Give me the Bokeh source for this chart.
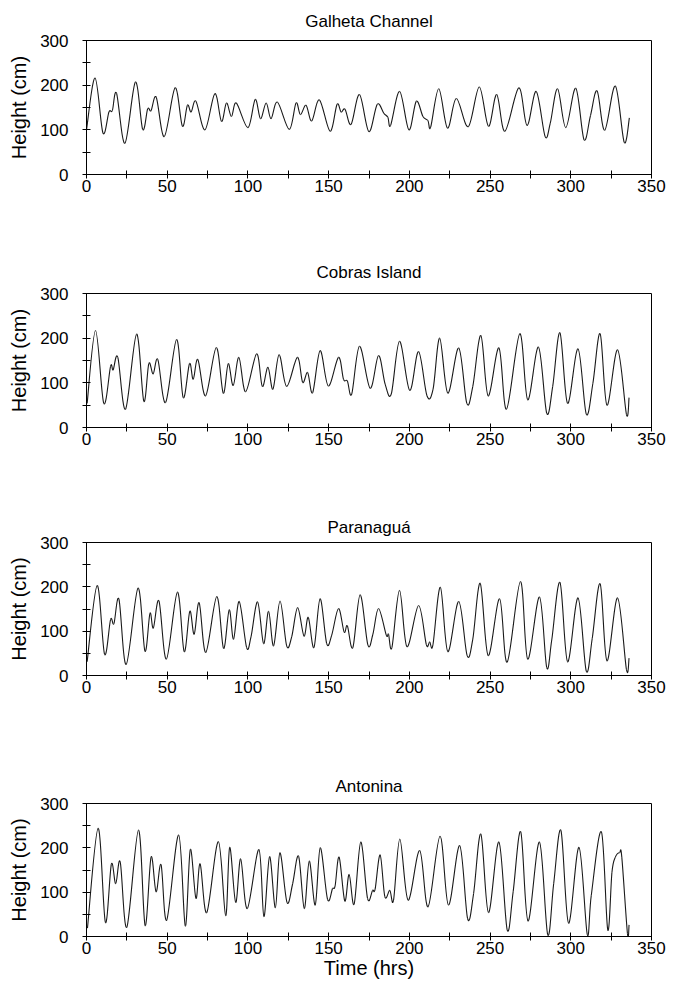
from bokeh.plotting import figure
from bokeh.layouts import column
from bokeh.models import FixedTicker, Range1d
from bokeh.embed import file_html
from bokeh.resources import INLINE

# ---- data (hours, height in cm) ----
galheta_t = [0, 5.3, 10.2, 13.9, 16, 18.6, 23.8, 30.3, 34.8, 37.9, 40, 43.2, 48.2, 54.9, 59.4, 62.5, 64.8, 67.8,
             73.4, 79.5, 83.6, 86.7, 89.8, 92.8, 100, 104.5, 107.8, 111.3, 114.3, 118.3, 125.6, 129.8, 132.5, 136,
             139.5, 144.3, 150.9, 155.2, 157.7, 160.2, 163.9, 169.1, 174.9, 180.1, 184.2, 186.7, 188.4, 194, 199.7,
             204.3, 208.4, 211.5, 213.2, 218.2, 223.6, 229.1, 236.5, 243.3, 249, 254.1, 259.2, 267.8, 272.9, 278.6,
             284.1, 287.3, 291.8, 296.9, 303.1, 308.2, 312.2, 316.3, 321, 327.6, 333.1, 336.3]
galheta_h = [100, 216, 93, 140, 143, 182, 70, 207, 101, 147, 143, 173, 85, 194, 108, 155, 140, 164,
             100, 181, 119, 160, 130, 160, 105, 168, 125, 160, 125, 162, 101, 160, 134, 155,
             120, 167, 97, 157, 140, 146, 112, 179, 96, 157, 137, 128, 110, 186, 100,
             164, 130, 121, 106, 192, 104, 170, 107, 196, 108, 179, 97, 194, 110, 186,
             85, 115, 192, 105, 193, 78, 132, 187, 99, 198, 72, 127]

cobras_t = [0.4, 5.6, 10.7, 14.9, 16.5, 19.4, 24.2, 31, 35.5, 38.6, 41.3, 44.2, 49, 55.8, 59.9, 63.8, 66.1, 69,
            73.8, 80.4, 84.7, 87.8, 90.9, 94.4, 98.6, 105.4, 108.9, 112.4, 115.5, 119.3, 124, 130.6, 133.9, 137,
            140.1, 144.7, 149.8, 156.1, 159.2, 161.6, 164.3, 169.1, 175.7, 180.9, 185, 188.8, 193.9, 200.2, 205.7,
            210.9, 214.7, 218.8, 223.8, 230.6, 235.6, 239.3, 244.3, 248.8, 255.5, 260.2, 268.4, 273.3, 280, 285.1,
            288.8, 293.3, 298, 304.5, 309.6, 313.7, 318.2, 322.4, 329, 334.5, 336.1]
cobras_h = [54, 217, 54, 137, 129, 157, 41, 209, 59, 143, 120, 152, 56, 197, 67, 143, 108, 152,
            71, 179, 77, 143, 94, 157, 80, 165, 92, 135, 86, 163, 92, 157, 101, 123,
            78, 172, 93, 157, 108, 104, 75, 182, 88, 161, 97, 75, 193, 83, 170,
            71, 86, 200, 77, 178, 54, 92, 206, 71, 178, 41, 210, 62, 180, 32,
            92, 212, 54, 176, 30, 99, 210, 50, 174, 29, 67]

paranagua_t = [0.4, 6.6, 11.2, 14.9, 17, 20.1, 24.6, 31.9, 36.2, 39.3, 41.4, 44.9, 49.5, 56.3, 60.5, 64, 66.7,
               69.8, 73.9, 80.7, 84.9, 88.4, 91.1, 94.6, 99.2, 101.9, 106, 109.7, 112.8, 115.9, 119.9, 124, 127.1,
               130.8, 134.7, 137.4, 140.9, 144.7, 148.8, 151.9, 156.1, 159.6, 161.6, 165, 169.5, 174.3, 177.4,
               180.9, 185.7, 187.1, 189.2, 193.9, 198.5, 205.7, 210.5, 212.6, 214.6, 219.2, 223.8, 230.6, 235.8,
               239.3, 243.9, 248.8, 255.9, 260.6, 268.8, 273.3, 280.6, 285.1, 288.2, 293.3, 298, 304.5, 309.6,
               313.3, 318.2, 322.4, 329, 334.5, 336.1]
paranagua_h = [31, 203, 48, 126, 117, 172, 25, 197, 55, 140, 107, 168, 37, 188, 54, 145, 93,
               164, 52, 178, 61, 148, 82, 167, 63, 87, 166, 72, 145, 67, 168, 67, 87,
               153, 89, 131, 63, 173, 72, 91, 151, 98, 112, 63, 182, 69, 93,
               151, 91, 93, 63, 192, 65, 158, 70, 76, 69, 199, 54, 167, 45,
               82, 208, 45, 173, 30, 212, 37, 177, 18, 80, 210, 31, 175, 10,
               84, 207, 33, 175, 13, 39]

antonina_t = [0.6, 7.2, 11.7, 15.4, 18.1, 20.9, 25, 32.2, 36.3, 40, 43.1, 46.2, 49.7, 57.1, 61.2, 64.3, 67.8,
              70.4, 74.5, 81.7, 86.2, 88.7, 92.4, 95.5, 99.6, 106.8, 109.9, 113.4, 117, 119.8, 124.2, 127.7,
              131.4, 134.9, 138, 141.7, 144.8, 149.3, 152.4, 154, 156.5, 160, 162.7, 165.8, 169.9, 174.1, 177.2,
              178.8, 181.9, 184.8, 187.9, 190.2, 194.1, 199.2, 206.4, 211.6, 219, 224.2, 231.2, 236.1, 239.8,
              244.3, 249, 255.5, 260.6, 264.3, 269, 273.5, 280.6, 285.7, 289.4, 293.9, 298.6, 305.1, 310.2,
              312.7, 319, 322.9, 325.5, 327.6, 330.2, 331.6, 335.1, 336.1]
antonina_h = [19, 244, 32, 163, 119, 168, 21, 240, 25, 179, 101, 162, 37, 229, 24, 196, 86,
              164, 54, 214, 47, 201, 77, 175, 63, 196, 45, 180, 65, 189, 77, 119,
              181, 63, 170, 71, 200, 84, 108, 114, 179, 80, 140, 73, 213, 86, 104,
              107, 184, 90, 104, 82, 220, 82, 194, 67, 226, 71, 205, 40, 97,
              231, 54, 213, 15, 101, 236, 35, 213, 4, 119, 239, 30, 201, 5,
              93, 236, 15, 145, 179, 189, 179, 7, 26]

x_ticks = [0, 50, 100, 150, 200, 250, 300, 350]
x_minor = [25, 75, 125, 175, 225, 275, 325]
y_ticks = [0, 100, 200, 300]
y_minor = [50, 150, 250]

FONT = "Liberation Sans"


def smooth_segments(t, h):
    """Bezier control points (Catmull-Rom style, like a spreadsheet 'smoothed line')."""
    n = len(t)
    x0, y0, x1, y1, cx0, cy0, cx1, cy1 = [], [], [], [], [], [], [], []
    for i in range(n - 1):
        ip = max(i - 1, 0)
        inx = min(i + 2, n - 1)
        x0.append(t[i]); y0.append(h[i])
        x1.append(t[i + 1]); y1.append(h[i + 1])
        cx0.append(t[i] + (t[i + 1] - t[ip]) / 6.0)
        cy0.append(h[i] + (h[i + 1] - h[ip]) / 6.0)
        cx1.append(t[i + 1] - (t[inx] - t[i]) / 6.0)
        cy1.append(h[i + 1] - (h[inx] - h[i]) / 6.0)
    return dict(x0=x0, y0=y0, x1=x1, y1=y1, cx0=cx0, cy0=cy0, cx1=cx1, cy1=cy1)


def panel(title, t, h, height, bt, bb, bl, br, title_standoff, xlabel=None):
    p = figure(width=676, height=height, x_range=Range1d(0, 350), y_range=Range1d(0, 300),
               output_backend="svg", toolbar_location=None,
               min_border_top=bt, min_border_bottom=bb, min_border_left=bl, min_border_right=br)
    p.title.text = title
    p.title.align = "center"
    p.title.text_font = FONT
    p.title.text_font_size = "17px"
    p.title.text_font_style = "normal"
    p.title.text_color = "black"
    p.title.standoff = title_standoff
    seg = smooth_segments(t, h)
    p.bezier(x0="x0", y0="y0", x1="x1", y1="y1", cx0="cx0", cy0="cy0", cx1="cx1", cy1="cy1",
             source=seg, line_color="#1a1a1a", line_width=1.1)
    p.xgrid.visible = False
    p.ygrid.visible = False
    p.outline_line_color = "black"
    p.outline_line_alpha = 1
    p.outline_line_width = 1
    p.background_fill_color = "white"
    p.border_fill_color = "white"

    p.xaxis.ticker = FixedTicker(ticks=x_ticks, minor_ticks=x_minor)
    p.yaxis.ticker = FixedTicker(ticks=y_ticks, minor_ticks=y_minor)
    for ax in (p.xaxis, p.yaxis):
        ax.axis_line_color = "black"
        ax.major_tick_line_color = "black"
        ax.minor_tick_line_color = "black"
        ax.major_tick_in = 4
        ax.major_tick_out = 4
        ax.minor_tick_in = 4
        ax.minor_tick_out = 4
        ax.major_label_text_font = FONT
        ax.major_label_text_font_size = "17px"
        ax.major_label_text_color = "black"
        ax.axis_label_text_font = FONT
        ax.axis_label_text_font_size = "20px"
        ax.axis_label_text_font_style = "normal"
        ax.axis_label_text_color = "black"
    p.xaxis.major_label_standoff = 1
    p.yaxis.major_label_standoff = 14
    p.yaxis.axis_label = "Height (cm)"
    p.yaxis.axis_label_standoff = 7
    if xlabel:
        p.xaxis.axis_label = xlabel
        p.xaxis.axis_label_standoff = 0
    return p


p1 = panel("Galheta Channel", galheta_t, galheta_h, 248, 40, 74, 80, 22, 19)
p2 = panel("Cobras Island", cobras_t, cobras_h, 261, 44, 82, 80, 24, 24)
p3 = panel("Paranaguá", paranagua_t, paranagua_h, 257, 32, 91, 80, 25, 12)
p4 = panel("Antonina", antonina_t, antonina_h, 234, 36, 64, 86, 14, 16, xlabel="Time (hrs)")

layout = column(p1, p2, p3, p4, spacing=0)

with open("out.html", "w") as f:
    f.write(file_html(layout, INLINE))
